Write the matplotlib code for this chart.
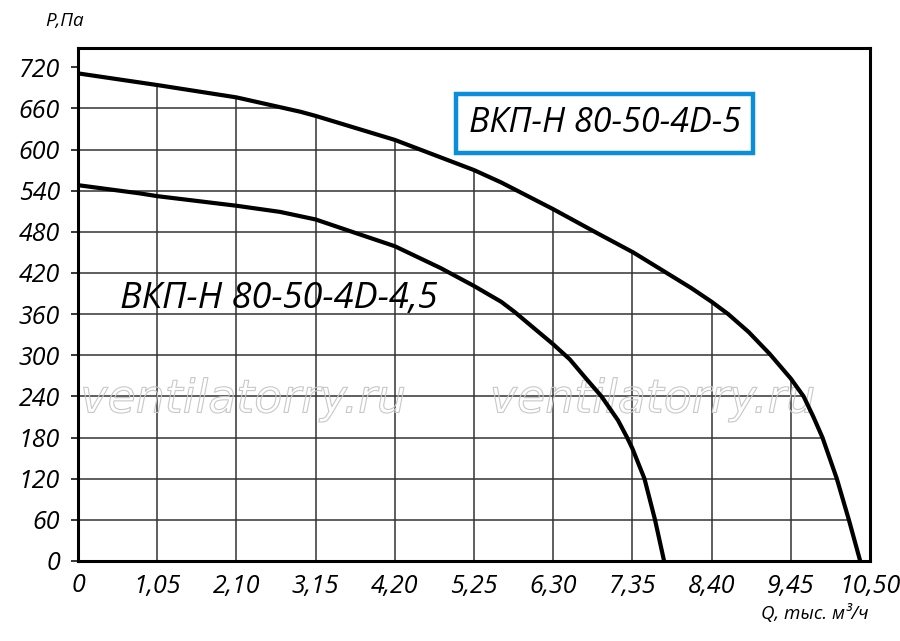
import matplotlib.pyplot as plt
import matplotlib.patheffects as pe

# Curve data (Q in thousand m3/h, P in Pa)
q_45 = [0, 0.82, 1.05, 2.10, 2.68, 3.15, 3.66, 4.20, 4.81, 5.25, 5.61, 5.79, 6.05,
        6.30, 6.52, 6.72, 6.94, 7.16, 7.28, 7.35, 7.51, 7.65, 7.77]
p_45 = [548, 536, 532, 518, 509, 498, 479, 459, 427, 401, 378, 363, 339,
        316, 294, 268, 240, 205, 180, 164, 120, 60, 0]

q_5 = [0, 1.05, 2.10, 2.95, 3.15, 4.20, 5.25, 5.61, 6.30, 6.85, 7.36, 7.76, 8.13,
       8.40, 8.62, 8.89, 9.17, 9.45, 9.62, 9.75, 9.87, 10.06, 10.22, 10.37]
p_5 = [711, 694, 676, 655, 649, 614, 570, 552, 513, 480, 450, 423, 398,
       378, 360, 334, 302, 266, 240, 210, 180, 120, 60, 0]

x_ticks = [0, 1.05, 2.10, 3.15, 4.20, 5.25, 6.30, 7.35, 8.40, 9.45, 10.50]
x_labels = ["0", "1,05", "2,10", "3,15", "4,20", "5,25", "6,30", "7,35", "8,40", "9,45", "10,50"]
y_ticks = [0, 60, 120, 180, 240, 300, 360, 420, 480, 540, 600, 660, 720]

font = "Open Sans"
fig = plt.figure(figsize=(9, 6.41), dpi=100)
ax = fig.add_axes([78 / 900, 80 / 641, 792 / 900, 513 / 641])

ax.set_xlim(0, 10.5)
ax.set_ylim(0, 748)

# grid lines, then a white mask above the larger curve so the grid only shows beneath it
for x in x_ticks[1:-1]:
    ax.axvline(x, color="#333333", lw=1.1, zorder=2)
for y in y_ticks[1:]:
    ax.axhline(y, color="#333333", lw=1.1, zorder=2)
ax.fill_between(q_5, p_5, 760, color="white", lw=0, zorder=3)
ax.fill_between([q_5[-1], 10.6], 0, 760, color="white", lw=0, zorder=3)

ax.plot(q_45, p_45, color="black", lw=3, zorder=4, solid_joinstyle="round")
ax.plot(q_5, p_5, color="black", lw=3, zorder=4, solid_joinstyle="round")

# outlined watermark
for xw in [0.003, 0.52]:
    ax.text(xw, 0.314, "ventilatorry.ru", transform=ax.transAxes, fontsize=33,
            fontfamily="DejaVu Sans", fontstyle="italic", color=(1, 1, 1, 0),
            ha="left", va="center", zorder=3.5,
            path_effects=[pe.Stroke(linewidth=0.8, foreground="#c8c8c8")])

ax.text(0.665, 0.853, "ВКП-Н 80-50-4D-5", transform=ax.transAxes, fontsize=24.5,
        fontfamily=font, fontstyle="italic", ha="center", va="center", zorder=5,
        bbox=dict(boxstyle="square,pad=0.36", fc="white", ec="#0a8ddb", lw=3.2))
ax.text(0.254, 0.511, "ВКП-Н 80-50-4D-4,5", transform=ax.transAxes, fontsize=26,
        fontfamily=font, fontstyle="italic", ha="center", va="center", zorder=5)

ax.set_xticks(x_ticks)
ax.set_xticklabels(x_labels)
ax.set_yticks(y_ticks)
for lab in ax.get_xticklabels() + ax.get_yticklabels():
    lab.set_fontfamily(font)
    lab.set_fontstyle("italic")
    lab.set_fontsize(18)
ax.tick_params(axis="x", length=0, pad=9)
ax.tick_params(axis="y", direction="out", length=5, width=1.1, pad=8)

for side in ["left", "bottom", "top", "right"]:
    ax.spines[side].set_linewidth(2.2)
    ax.spines[side].set_zorder(6)

fig.text(45 / 900, 1 - 21 / 641, "P,Па", fontsize=13.5, fontfamily=font,
         fontstyle="italic", ha="left", va="center")
fig.text(869 / 900, 1 - 614 / 641, "Q, тыс. м³/ч", fontsize=13.5, fontfamily=font,
         fontstyle="italic", ha="right", va="center")

fig.savefig("out.png", dpi=100, facecolor="white")
